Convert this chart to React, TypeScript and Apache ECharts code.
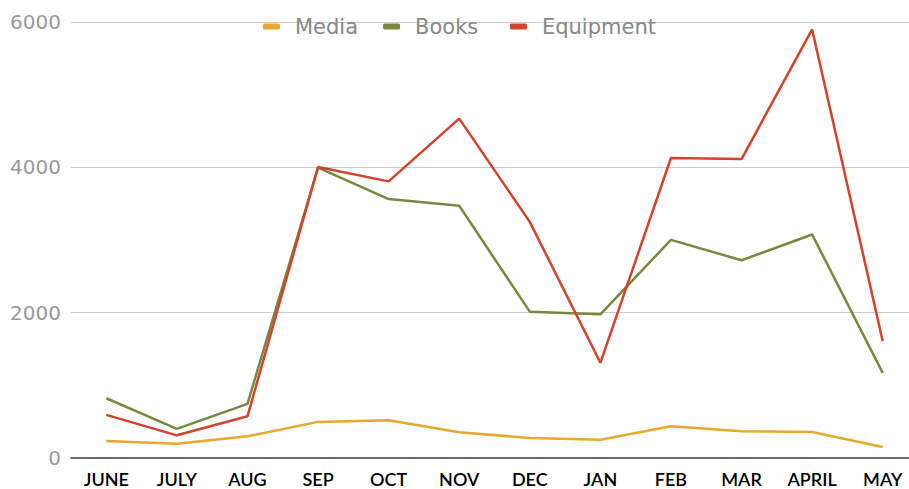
import React, { useEffect, useRef } from "react";
import * as echarts from "echarts";

const months = ["JUNE", "JULY", "AUG", "SEP", "OCT", "NOV", "DEC", "JAN", "FEB", "MAR", "APRIL", "MAY"];
const media = [234, 197, 298, 497, 519, 353, 276, 252, 436, 367, 359, 152];
const books = [822, 400, 745, 3995, 3563, 3471, 2014, 1977, 3002, 2721, 3076, 1172];
const equipment = [593, 312, 574, 4004, 3807, 4670, 3250, 1310, 4128, 4114, 5898, 1608];
const yTicks = [0, 2000, 4000, 6000];

export default function App() {
  const ref = useRef<HTMLDivElement>(null);
  useEffect(() => {
    const chart = echarts.init(ref.current!, null, { renderer: "svg" });
    const mk = (name: string, data: number[], color: string) => ({
      name,
      type: "line",
      data,
      symbol: "none",
      lineStyle: { color, width: 2.5 },
      itemStyle: { color },
    });
    chart.setOption({
      animation: false,
      backgroundColor: "#fff",
      legend: {
        top: 11,
        left: 258,
        icon: "roundRect",
        itemWidth: 17,
        itemHeight: 6,
        itemGap: 25,
        textStyle: { color: "#888", fontSize: 21, fontFamily: "DejaVu Sans", padding: [0, 0, 0, 10] },
        formatter: (name: string) => (name === "Books" ? "Books " : name),
      },
      grid: { left: 71, right: 0, top: 22, bottom: 31 },
      xAxis: {
        type: "category",
        data: months,
        boundaryGap: true,
        axisLine: { lineStyle: { color: "#444", width: 1.5 } },
        axisTick: { show: false },
        axisLabel: { color: "#000", fontSize: 18, fontFamily: "Lato", fontWeight: 600, margin: 12, interval: 0 },
      },
      yAxis: {
        type: "value",
        min: yTicks[0],
        max: yTicks[yTicks.length - 1],
        interval: 2000,
        axisLine: { show: false },
        axisTick: { show: false },
        splitLine: { lineStyle: { color: "#ccc", width: 1 } },
        axisLabel: {
          color: "#999",
          fontSize: 20,
          fontFamily: "DejaVu Sans",
          margin: 10,
          formatter: (v: number) => String(v),
        },
      },
      series: [
        mk("Media", media, "#E9A82C"),
        mk("Books", books, "#77893F"),
        mk("Equipment", equipment, "#D3432B"),
      ],
    });
    return () => chart.dispose();
  }, []);
  return <div ref={ref} style={{ position: "fixed", left: 0, top: 0, width: 918, height: 489 }} />;
}
